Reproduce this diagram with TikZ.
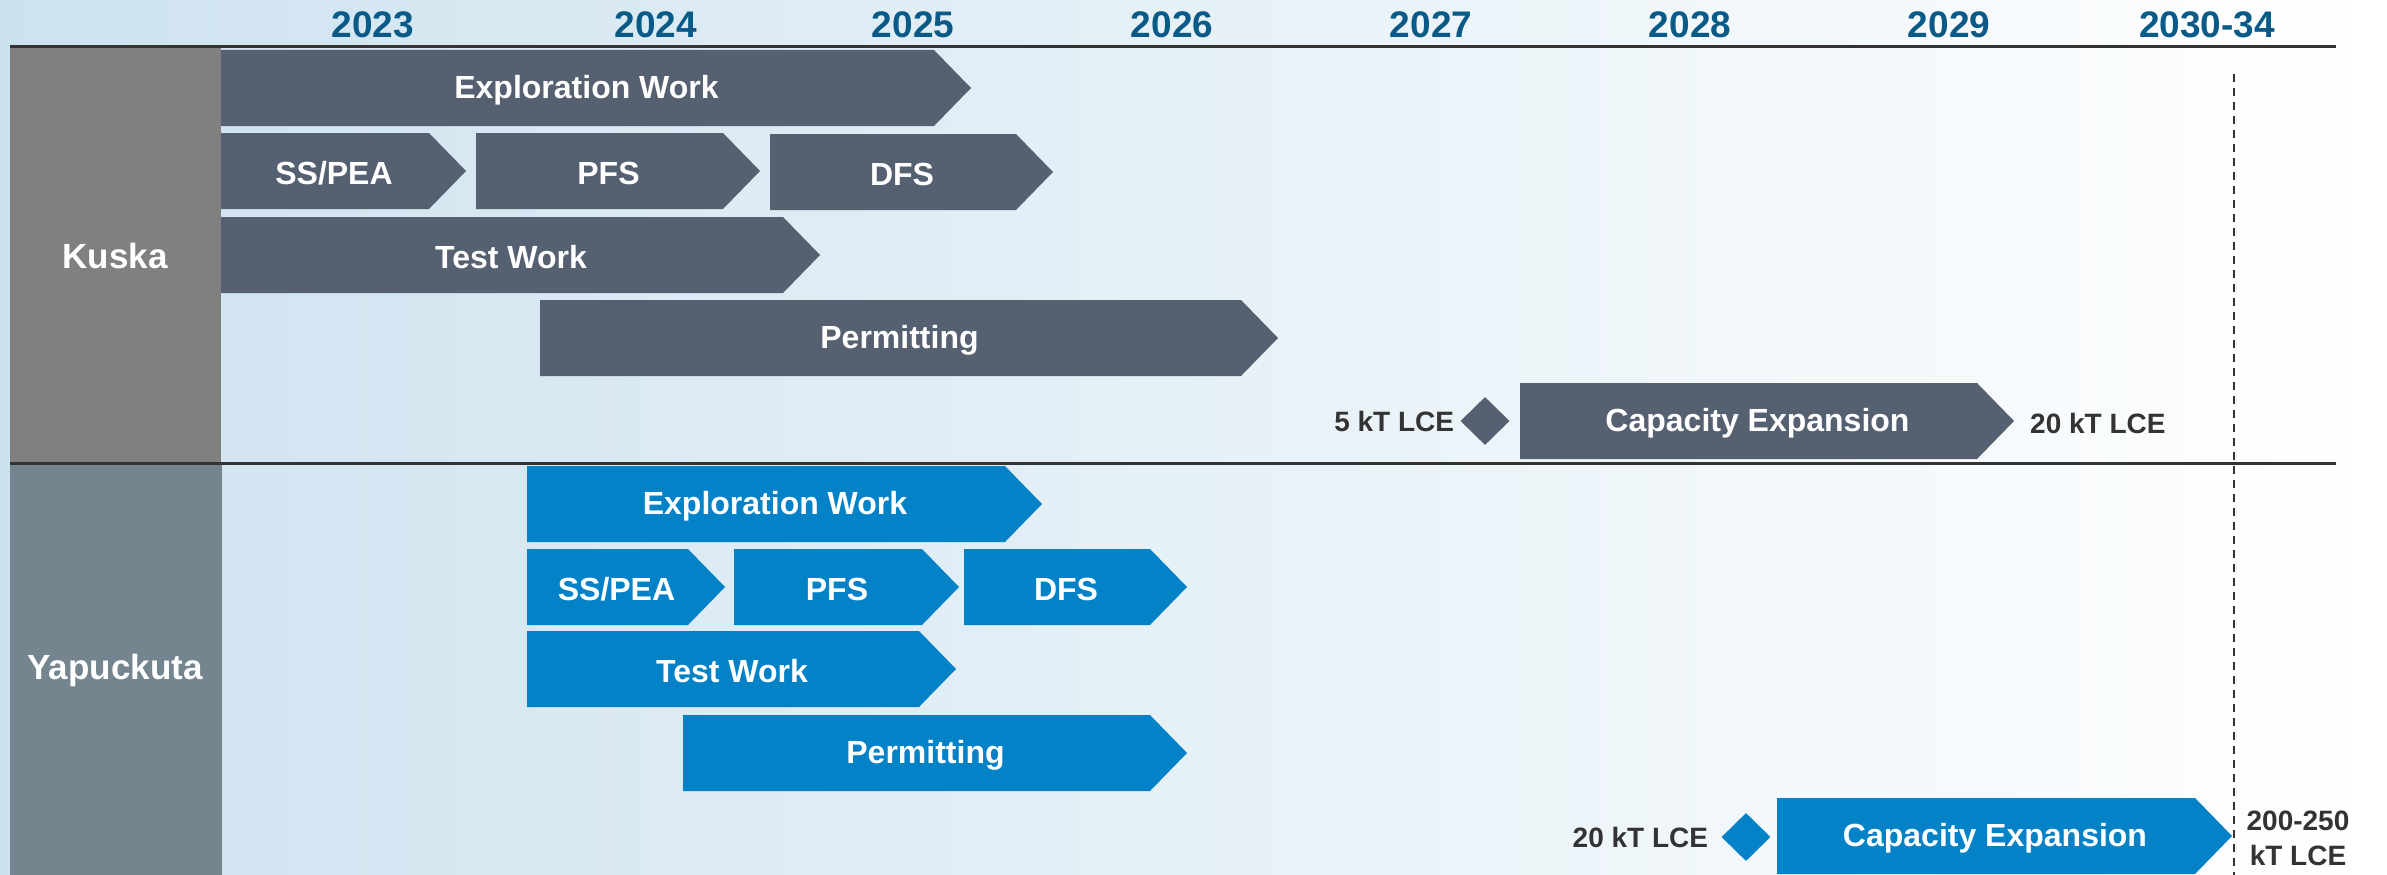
\documentclass[tikz,border=0pt]{standalone}
\usepackage{fontspec}
\setmainfont{Liberation Sans}
\usepackage{xcolor}
\usepackage{tikz}
\usetikzlibrary{positioning,shapes.geometric}

\definecolor{bgblue}{HTML}{CDE2EF}
\definecolor{yearblue}{HTML}{0A5A88}
\definecolor{kuskabar}{HTML}{556071}
\definecolor{yapubar}{HTML}{0482C8}
\definecolor{kuskagrey}{HTML}{808080}
\definecolor{yapugrey}{HTML}{74858F}
\definecolor{rulegrey}{HTML}{333333}

\tikzset{
  year/.style={text=yearblue, font=\fontsize{37}{40}\selectfont\bfseries},
  site/.style={text=white, font=\fontsize{35}{38}\selectfont\bfseries},
  bartext/.style={text=white, font=\fontsize{32}{36}\selectfont\bfseries},
  lce/.style={text=rulegrey, font=\fontsize{28}{35}\selectfont\bfseries, inner sep=0pt, align=center},
  milestone/.style={diamond, inner sep=0pt, minimum width=49pt, minimum height=48pt},
}

\newcommand{\phasebar}[6]{%
  \fill[#5] (#2,#4) -- (#3,#4) -- ++(37,38) -- ++(-37,38) -- (#2,#4+76) -- cycle;
  \node[bartext] (#1) at ({(#2+#3)/2+9},#4+40) {#6};
}

\begin{document}
\begin{tikzpicture}[x=1pt,y=-1pt]
\useasboundingbox (0,0) rectangle (2387,875);
\shade[left color=bgblue, right color=white] (0,0) rectangle (2387,875);

\foreach \yr/\xp [count=\i] in {2023/373, 2024/656, 2025/913, 2026/1172, 2027/1431, 2028/1690, 2029/1949, 2030-34/2207}
  \node[year] (yr\i) at (\xp,25) {\yr};

\fill[kuskagrey] (10,47) rectangle (221,463);
\fill[yapugrey] (10,463) rectangle (222,875);
\node[site] (kuska) at (115,256) {Kuska};
\node[site] (yapu) at (115,670) {Yapuckuta};

\phasebar{explK}{221}{934}{50}{kuskabar}{Exploration Work}
\phasebar{ssK}{221}{429}{133}{kuskabar}{SS/PEA}
\phasebar{pfsK}{476}{723}{133}{kuskabar}{PFS}
\phasebar{dfsK}{770}{1016}{134}{kuskabar}{DFS}
\phasebar{testK}{221}{783}{217}{kuskabar}{Test Work}
\phasebar{permK}{540}{1241}{300}{kuskabar}{Permitting}
\phasebar{capK}{1520}{1977}{383}{kuskabar}{Capacity Expansion}

\phasebar{explY}{527}{1005}{466}{yapubar}{Exploration Work}
\phasebar{ssY}{527}{688}{549}{yapubar}{SS/PEA}
\phasebar{pfsY}{734}{922}{549}{yapubar}{PFS}
\phasebar{dfsY}{964}{1150}{549}{yapubar}{DFS}
\phasebar{testY}{527}{919}{631}{yapubar}{Test Work}
\phasebar{permY}{683}{1150}{715}{yapubar}{Permitting}
\phasebar{capY}{1777}{2195}{798}{yapubar}{Capacity Expansion}

\node[milestone, fill=kuskabar] (msK) at (1485,421) {};
\node[milestone, fill=yapubar] (msY) at (1746,837) {};
\node[lce, left=6pt of msK] (lceK) {5 kT LCE};
\node[lce, anchor=west] (lceKend) at (2030,423) {20 kT LCE};
\node[lce, left=13pt of msY] (lceY) {20 kT LCE};
\node[lce] (lceYend) at (2298,838) {200-250\\kT LCE};

\draw[rulegrey, line width=3pt] (10,47) -- (2336,47);
\draw[rulegrey, line width=3pt] (10,463) -- (2336,463);
\draw[rulegrey, line width=1.5pt, dash pattern=on 8pt off 6pt] (2234,74) -- (2234,875);
\end{tikzpicture}
\end{document}
